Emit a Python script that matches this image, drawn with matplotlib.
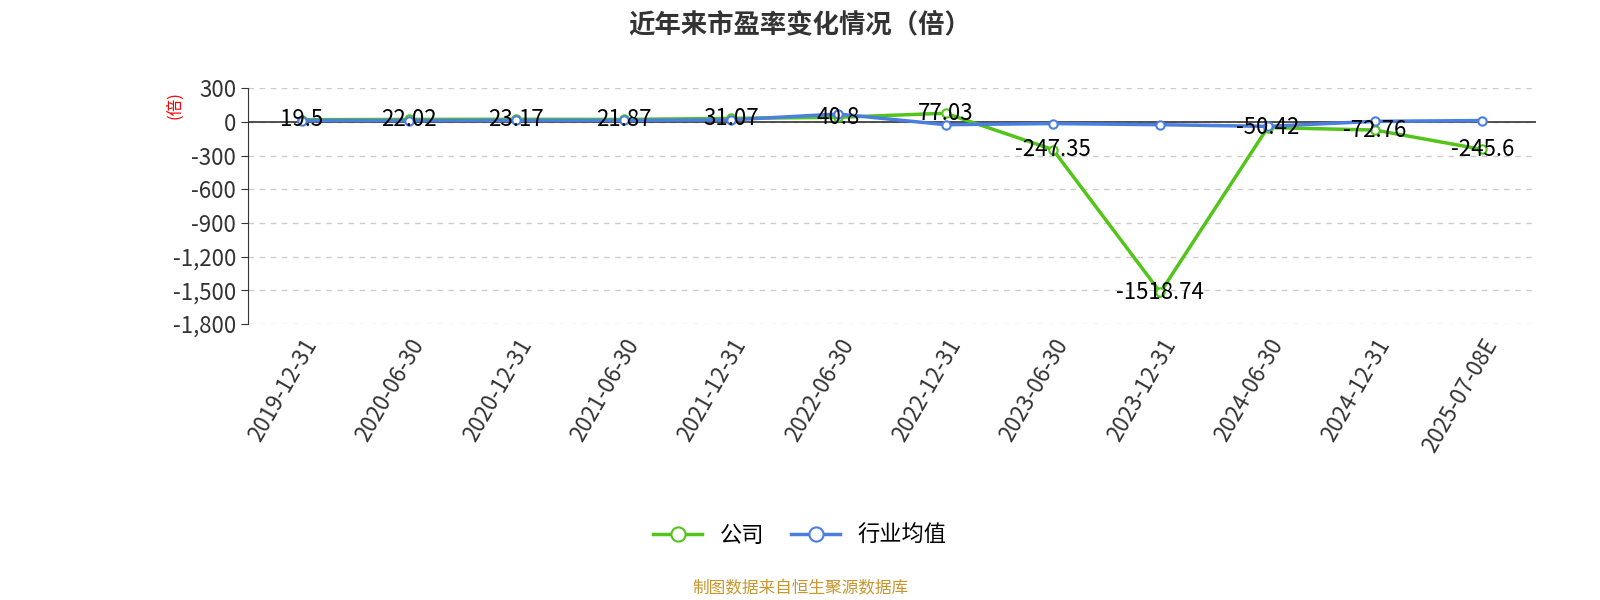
import matplotlib
matplotlib.use("Agg")
import matplotlib.pyplot as plt
from matplotlib.ticker import FuncFormatter

plt.rcParams['font.family'] = ['Noto Sans CJK SC', 'DejaVu Sans']

categories = ["2019-12-31","2020-06-30","2020-12-31","2021-06-30","2021-12-31","2022-06-30",
              "2022-12-31","2023-06-30","2023-12-31","2024-06-30","2024-12-31","2025-07-08E"]
company = [19.5, 22.02, 23.17, 21.87, 31.07, 40.8, 77.03, -247.35, -1518.74, -50.42, -72.76, -245.6]
industry = [12, 12, 13, 13, 18, 70, -25, -15, -25, -40, 5, 12]
labels = ["19.5","22.02","23.17","21.87","31.07","40.8","77.03","-247.35","-1518.74","-50.42","-72.76","-245.6"]

fig = plt.figure(figsize=(16, 6), dpi=100)
ax = fig.add_axes([0.155, 0.46, 0.805, 0.393])
x = list(range(len(categories)))
green = "#52c41a"; blue = "#4a7fe0"
ax.plot(x, company, color=green, lw=2.5, marker='o', ms=6, mfc='white', mec=green, mew=1.5, zorder=3, label="公司")
ax.plot(x, industry, color=blue, lw=2.5, marker='o', ms=6, mfc='white', mec=blue, mew=1.5, zorder=4, label="行业均值")
for xi, v, t in zip(x, company, labels):
    ax.text(xi, v, t, ha='center', va='center', fontsize=16, color='black', zorder=5)

ax.set_xlim(-0.5, len(categories) - 0.5)
ax.set_ylim(-1800, 300)
ax.set_yticks(range(-1800, 301, 300))
ax.yaxis.set_major_formatter(FuncFormatter(lambda v, p: f"{int(v):,}"))
ax.grid(axis='y', ls=(0, (4, 4)), color='#cccccc', lw=1)
ax.set_axisbelow(True)
for s in ['top', 'right', 'bottom']:
    ax.spines[s].set_visible(False)
ax.spines['left'].set_color('#333333')
ax.axhline(0, color='#333333', lw=1.2, zorder=2)
ax.set_xticks(x)
ax.set_xticklabels(categories, rotation=60, ha='right', rotation_mode='anchor', fontsize=16, color='#333333')
ax.tick_params(axis='x', length=0, pad=8)
ax.tick_params(axis='y', labelsize=16, colors='#333333', length=5)
ax.set_ylabel("(倍)", color='red', fontsize=12, labelpad=-2)
ax.yaxis.set_label_coords(-0.05, 0.93)

fig.text(0.5, 0.958, "近年来市盈率变化情况（倍）", ha='center', va='center', fontsize=19, fontweight='bold', color='#333333')
fig.legend(loc='center', bbox_to_anchor=(0.5, 0.108), ncol=2, frameon=False, fontsize=16,
           handlelength=2.2, markerscale=1.7, columnspacing=1.2)
fig.text(0.5, 0.018, "制图数据来自恒生聚源数据库", ha='center', va='center', fontsize=12, color='#c8962e')
fig.savefig("out.png", dpi=100)
